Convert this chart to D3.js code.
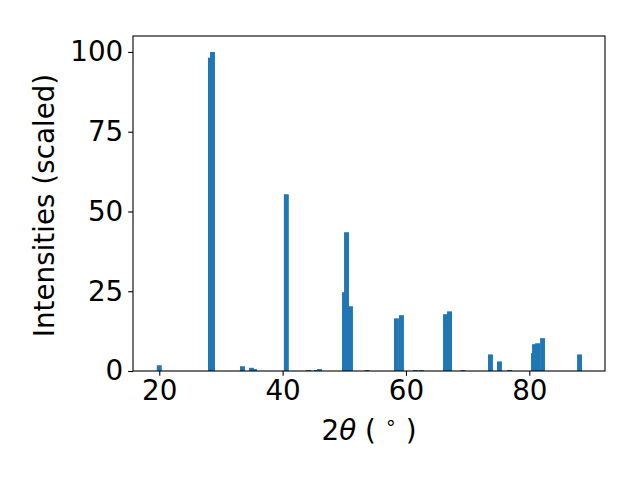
<!DOCTYPE html>
<html>
<head>
<meta charset="utf-8">
<script src="https://cdn.jsdelivr.net/npm/d3@7"></script>
<style>
  body { margin: 0; background: #fff; }
  svg { display: block; }
  text { font-family: "DejaVu Sans", sans-serif; fill: #000; }
</style>
</head>
<body>
<svg id="chart" width="640" height="480"></svg>
<script>
// Peak positions (2θ, degrees) and scaled intensities
const twoTheta = [20.0, 28.30, 28.63, 33.49, 34.95, 35.44, 40.60, 44.19, 45.49, 45.98,
                  50.03, 50.36, 51.00, 53.68, 58.46, 59.27, 61.54, 62.52, 66.41, 67.06,
                  69.25, 73.70, 75.16, 76.79, 80.68, 80.84, 81.33, 82.14, 88.14];
const intensity = [1.8, 98.2, 100, 1.5, 1.0, 0.6, 55.4, 0.3, 0.3, 0.6,
                   24.7, 43.5, 20.3, 0.3, 16.5, 17.5, 0.3, 0.3, 17.8, 18.7,
                   0.3, 5.2, 3.0, 0.3, 5.6, 8.4, 8.7, 10.3, 5.2];
const xTicks = [20, 40, 60, 80];
const yTicks = [0, 25, 50, 75, 100];
const barWidth = 0.8;

const svg = d3.select("#chart");
const pL = 133, pR = 605, pT = 36, pB = 371;
const fs = 27.78;
const tick = 4.86;

const x = d3.scaleLinear().domain([15.74, 92.27]).range([pL, pR]);
const y = d3.scaleLinear().domain([0, 105]).range([pB, pT]);

svg.append("rect").attr("x", 0).attr("y", 0).attr("width", 640).attr("height", 480).attr("fill", "#fff");

// bars
svg.append("g").selectAll("rect")
  .data(twoTheta.map((t, i) => ({t, v: intensity[i]})))
  .join("rect")
  .attr("x", d => x(d.t - barWidth / 2))
  .attr("width", d => x(d.t + barWidth / 2) - x(d.t - barWidth / 2))
  .attr("y", d => y(d.v))
  .attr("height", d => y(0) - y(d.v))
  .attr("fill", "#1f77b4");

// axes
const xAxis = svg.append("g")
  .attr("transform", `translate(0,${pB})`)
  .call(d3.axisBottom(x).tickValues(xTicks).tickSize(tick).tickPadding(tick).tickFormat(d3.format("d")));
const yAxis = svg.append("g")
  .attr("transform", `translate(${pL},0)`)
  .call(d3.axisLeft(y).tickValues(yTicks).tickSize(tick).tickPadding(tick).tickFormat(d3.format("d")));
[xAxis, yAxis].forEach(g => {
  g.select(".domain").remove();
  g.selectAll("line").attr("stroke", "#000").attr("stroke-width", 1.1);
  g.selectAll("text").attr("font-size", fs).attr("font-family", "DejaVu Sans, sans-serif").attr("fill", "#000");
});

// frame
svg.append("rect")
  .attr("x", pL).attr("y", pT)
  .attr("width", pR - pL).attr("height", pB - pT)
  .attr("fill", "none").attr("stroke", "#000").attr("stroke-width", 1.1);

// x label
const xl = svg.append("text")
  .attr("x", (pL + pR) / 2)
  .attr("y", 440)
  .attr("text-anchor", "middle")
  .attr("font-size", fs);
xl.append("tspan").text("2");
xl.append("tspan").attr("font-style", "italic").text("θ");
xl.append("tspan").text(" ( ");
xl.append("tspan").attr("font-size", fs * 0.7).attr("dy", -11).text("∘");
xl.append("tspan").attr("dy", 11).text(" )");

// y label
svg.append("text")
  .attr("transform", `translate(54,${(pT + pB) / 2 + 2}) rotate(-90)`)
  .attr("text-anchor", "middle")
  .attr("font-size", fs)
  .text("Intensities (scaled)");
</script>
</body>
</html>
